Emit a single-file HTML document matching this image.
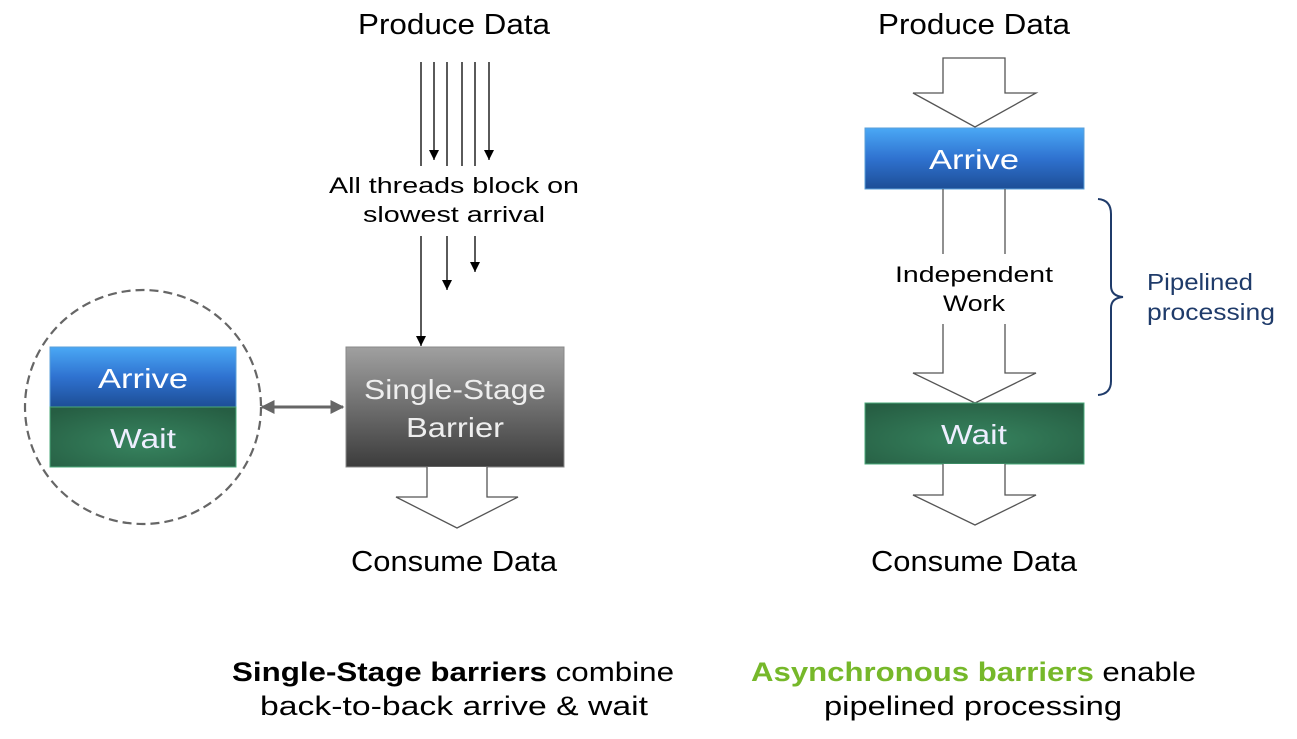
<!DOCTYPE html>
<html><head><meta charset="utf-8"><style>
html,body{margin:0;padding:0;background:#fff;}
svg{display:block;}
text{font-family:"Liberation Sans",sans-serif;}
</style></head><body>
<svg width="1297" height="739" viewBox="0 0 1297 739" xmlns="http://www.w3.org/2000/svg">
<defs>
<linearGradient id="blue" x1="0" y1="0" x2="0" y2="1">
<stop offset="0" stop-color="#4aa8f5"/><stop offset="0.5" stop-color="#2f72d0"/><stop offset="1" stop-color="#1d4e96"/></linearGradient>
<radialGradient id="green" cx="0.5" cy="0.6" r="0.7">
<stop offset="0" stop-color="#37845f"/><stop offset="1" stop-color="#265e43"/></radialGradient>
<linearGradient id="gray" x1="0" y1="0" x2="0" y2="1">
<stop offset="0" stop-color="#a0a0a0"/><stop offset="0.5" stop-color="#6e6e6e"/><stop offset="1" stop-color="#3c3c3c"/></linearGradient>
<marker id="ah" viewBox="0 0 10 10" refX="10" refY="5" markerWidth="10" markerHeight="10" markerUnits="userSpaceOnUse" orient="auto">
<path d="M0,0 L10,5 L0,10 z" fill="#000"/></marker>
<marker id="gh" viewBox="0 0 10 10" refX="9" refY="5" markerWidth="14" markerHeight="14" markerUnits="userSpaceOnUse" orient="auto-start-reverse">
<path d="M0,0 L10,5 L0,10 z" fill="#666"/></marker>
</defs>

<!-- Left titles -->
<text x="454" y="34" font-size="29" text-anchor="middle" textLength="192" lengthAdjust="spacingAndGlyphs">Produce Data</text>
<text x="454" y="571" font-size="29" text-anchor="middle" textLength="206" lengthAdjust="spacingAndGlyphs">Consume Data</text>

<!-- thread lines -->
<g stroke="#000" stroke-width="1.3">
<line x1="421" y1="62" x2="421" y2="166"/>
<line x1="434" y1="62" x2="434" y2="160" marker-end="url(#ah)"/>
<line x1="447" y1="62" x2="447" y2="166"/>
<line x1="462" y1="62" x2="462" y2="166"/>
<line x1="475" y1="62" x2="475" y2="166"/>
<line x1="489" y1="62" x2="489" y2="160" marker-end="url(#ah)"/>
<line x1="421" y1="236" x2="421" y2="346" marker-end="url(#ah)"/>
<line x1="447" y1="236" x2="447" y2="290" marker-end="url(#ah)"/>
<line x1="475" y1="236" x2="475" y2="272" marker-end="url(#ah)"/>
</g>
<text x="454" y="193" font-size="22" text-anchor="middle" textLength="250" lengthAdjust="spacingAndGlyphs">All threads block on</text>
<text x="454" y="222" font-size="22" text-anchor="middle" textLength="182" lengthAdjust="spacingAndGlyphs">slowest arrival</text>

<!-- dashed circle -->
<ellipse cx="143" cy="407" rx="118" ry="117" fill="none" stroke="#666" stroke-width="2.2" stroke-dasharray="9,5"/>
<rect x="50" y="347" width="186" height="60" fill="url(#blue)" stroke="#5a9fd8" stroke-width="1"/>
<rect x="50" y="407" width="186" height="60" fill="url(#green)" stroke="#4aa87a" stroke-width="1"/>
<text x="143" y="388" font-size="28" fill="#fff" text-anchor="middle" textLength="90" lengthAdjust="spacingAndGlyphs">Arrive</text>
<text x="143" y="448" font-size="28" fill="#eef" text-anchor="middle" textLength="66" lengthAdjust="spacingAndGlyphs">Wait</text>

<!-- double arrow -->
<line x1="262" y1="407" x2="343" y2="407" stroke="#666" stroke-width="3" marker-start="url(#gh)" marker-end="url(#gh)"/>

<!-- barrier -->
<rect x="346" y="347" width="218" height="120" fill="url(#gray)" stroke="#888" stroke-width="1"/>
<text x="455" y="399" font-size="28" fill="#eee" text-anchor="middle" textLength="182" lengthAdjust="spacingAndGlyphs">Single-Stage</text>
<text x="455" y="437" font-size="28" fill="#eee" text-anchor="middle" textLength="98" lengthAdjust="spacingAndGlyphs">Barrier</text>
<path d="M427,467 L427,497 L396,497 L457,528 L518,497 L487,497 L487,467" fill="#fff" stroke="#555" stroke-width="1.3"/>

<!-- Right -->
<text x="974" y="34" font-size="29" text-anchor="middle" textLength="192" lengthAdjust="spacingAndGlyphs">Produce Data</text>
<text x="974" y="571" font-size="29" text-anchor="middle" textLength="206" lengthAdjust="spacingAndGlyphs">Consume Data</text>
<path d="M943,58 L1005,58 L1005,93 L1036,93 L975,127 L913,93 L943,93 Z" fill="#fff" stroke="#555" stroke-width="1.3"/>
<rect x="865" y="128" width="219" height="61" fill="url(#blue)" stroke="#5a9fd8" stroke-width="1"/>
<text x="974" y="169" font-size="28" fill="#fff" text-anchor="middle" textLength="90" lengthAdjust="spacingAndGlyphs">Arrive</text>
<g stroke="#555" stroke-width="1.3" fill="none">
<line x1="943" y1="189" x2="943" y2="254"/>
<line x1="1005" y1="189" x2="1005" y2="254"/>
</g>
<path d="M943,324 L943,373 L913,373 L975,403 L1036,373 L1005,373 L1005,324" fill="#fff" stroke="#555" stroke-width="1.3"/>
<text x="974" y="282" font-size="22" text-anchor="middle" textLength="158" lengthAdjust="spacingAndGlyphs">Independent</text>
<text x="974" y="311" font-size="22" text-anchor="middle" textLength="62" lengthAdjust="spacingAndGlyphs">Work</text>
<rect x="865" y="403" width="219" height="61" fill="url(#green)" stroke="#4aa87a" stroke-width="1"/>
<text x="974" y="444" font-size="28" fill="#eef" text-anchor="middle" textLength="66" lengthAdjust="spacingAndGlyphs">Wait</text>
<path d="M943,464 L943,495 L913,495 L975,525 L1036,495 L1005,495 L1005,464" fill="#fff" stroke="#555" stroke-width="1.3"/>

<!-- brace -->
<path d="M1098,199 Q1111,200 1111,214 L1111,286 Q1111,296 1123,297 Q1111,298 1111,308 L1111,381 Q1111,394 1098,395" fill="none" stroke="#1f3b6a" stroke-width="2"/>
<text x="1147" y="290" font-size="23" fill="#1f3b6a" textLength="106" lengthAdjust="spacingAndGlyphs">Pipelined</text>
<text x="1147" y="320" font-size="23" fill="#1f3b6a" textLength="128" lengthAdjust="spacingAndGlyphs">processing</text>

<!-- captions -->
<text x="232" y="681" font-size="27" textLength="442" lengthAdjust="spacingAndGlyphs"><tspan font-weight="bold">Single-Stage barriers</tspan> combine</text>
<text x="454" y="715" font-size="27" text-anchor="middle" textLength="388" lengthAdjust="spacingAndGlyphs">back-to-back arrive &amp; wait</text>
<text x="751" y="681" font-size="27" textLength="445" lengthAdjust="spacingAndGlyphs"><tspan font-weight="bold" fill="#76b82a">Asynchronous barriers</tspan> enable</text>
<text x="973" y="715" font-size="27" text-anchor="middle" textLength="298" lengthAdjust="spacingAndGlyphs">pipelined processing</text>
</svg>
</body></html>
